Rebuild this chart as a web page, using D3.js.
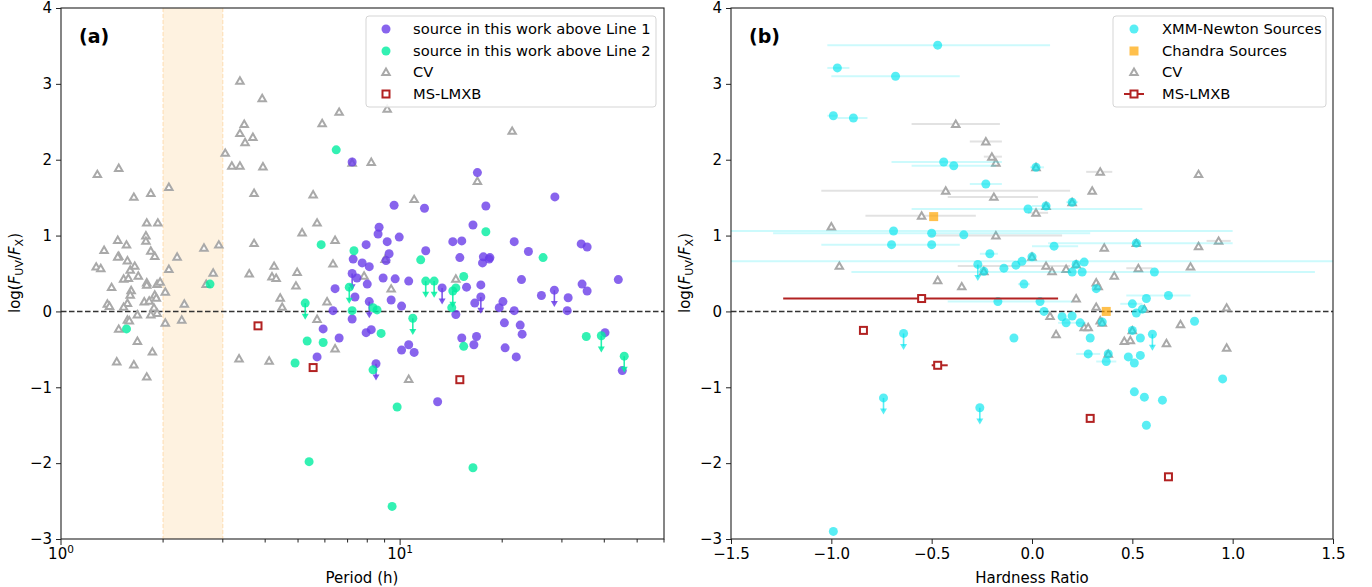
<!DOCTYPE html>
<meta charset="utf-8">
<script src="https://cdn.jsdelivr.net/npm/d3@7"></script>
<body style="margin:0;background:#fff">
<svg width="1372" height="587"></svg>
<script>
// ---- panel (a): [period (h), log(Fuv/Fx)] ----
var cvA = [[3.37,3.04],[3.92,2.81],[3.47,2.47],[3.37,2.35],[3.68,2.30],[3.49,2.23],[3.05,2.09],[3.19,1.92],[3.37,1.92],[3.94,1.91],
  [1.28,1.81],[1.48,1.89],[1.64,1.51],[1.84,1.56],[2.08,1.64],[3.71,1.56],[1.79,1.17],[1.93,1.17],[1.47,0.94],[1.56,0.88],
  [1.78,1.00],[1.78,0.93],[1.34,0.81],[1.48,0.73],[1.47,0.72],[1.57,0.67],[1.84,0.80],[1.89,0.73],[2.20,0.72],[2.64,0.84],
  [2.92,0.88],[3.71,0.90],[1.27,0.59],[1.31,0.57],[1.60,0.55],[1.65,0.60],[2.08,0.56],[2.81,0.51],[2.68,0.36],[3.59,0.50],
  [4.25,0.60],[4.19,0.46],[4.31,0.44],[4.97,0.52],[4.93,0.34],[1.53,0.43],[1.58,0.44],[1.69,0.47],[1.41,0.32],[1.61,0.28],
  [1.79,0.38],[1.79,0.35],[1.92,0.36],[1.96,0.39],[2.03,0.26],[1.60,0.22],[1.89,0.22],[1.91,0.18],[1.76,0.13],[1.82,0.14],
  [1.57,0.11],[1.53,0.06],[1.37,0.10],[1.39,0.07],[2.31,0.10],[1.88,0.05],[1.92,-0.02],[1.84,-0.04],[4.43,0.18],[4.49,0.06],
  [1.68,-0.04],[1.57,-0.11],[1.59,-0.12],[1.48,-0.23],[2.03,-0.15],[2.27,-0.11],[1.68,-0.39],[1.86,-0.53],[1.46,-0.66],[1.64,-0.70],
  [3.35,-0.62],[4.11,-0.65],[1.79,-0.86],[5.89,2.48],[6.61,2.63],[9.16,2.67],[8.22,1.97],[7.22,1.96],[5.54,1.54],[5.69,1.17],
  [5.14,1.04],[6.43,0.94],[11.0,1.48],[16.9,1.72],[21.4,2.38],[6.34,0.63],[6.09,0.13],[5.69,-0.10],[9.03,0.69],[7.83,0.47],
  [9.41,0.30],[6.43,-0.49],[10.6,-0.89],[14.6,0.43]];
var src1 = [[7.22,1.97],[16.9,1.83],[9.60,1.40],[11.8,1.36],[17.9,1.39],[8.67,1.11],[8.61,1.02],[9.16,0.92],[9.94,0.98],[7.94,0.88],
  [14.3,0.92],[15.2,0.93],[16.4,1.14],[28.6,1.51],[21.7,0.92],[34.2,0.89],[35.6,0.85],[7.27,0.69],[7.73,0.64],[8.11,0.59],
  [9.28,0.76],[9.09,0.67],[11.9,0.80],[15.0,0.71],[17.6,0.72],[17.5,0.64],[18.3,0.69],[7.46,0.44],[8.00,0.36],[8.91,0.44],
  [9.67,0.43],[10.6,0.40],[15.7,0.32],[17.3,0.35],[6.43,0.30],[7.36,0.19],[9.41,0.15],[10.1,0.07],[16.6,0.11],[14.6,-0.04],
  [7.22,-0.10],[6.34,0.01],[5.93,-0.23],[6.61,-0.35],[5.69,-0.60],[7.94,-0.28],[8.22,-0.24],[10.1,-0.51],[10.6,-0.44],[11.0,-0.54],
  [15.2,-0.35],[16.8,-0.33],[16.5,-0.44],[12.9,-1.19],[23.9,0.79],[18.4,0.71],[22.8,0.42],[34.4,0.36],[35.6,0.27],[44.0,0.42],
  [20.1,0.13],[19.6,0.05],[21.7,0.01],[26.1,0.21],[31.3,0.18],[31.1,0.01],[20.3,-0.15],[22.6,-0.18],[22.9,-0.30],[40.2,-0.28],
  [20.4,-0.48],[22.0,-0.60],[45.2,-0.78]];
var src1Ul = [[7.22,0.50],[8.11,0.13],[8.49,-0.69],[13.3,0.31],[17.3,0.19],[28.5,0.28]];
var src2 = [[2.75,0.36],[1.56,-0.23],[4.90,-0.68],[6.48,2.13],[5.85,0.88],[17.9,1.05],[7.31,0.80],[7.22,0.01],[8.32,0.05],[8.55,0.02],
  [11.5,0.68],[15.4,0.46],[14.6,0.31],[14.2,0.05],[5.32,-0.39],[5.93,-0.41],[8.79,-0.29],[8.32,-0.77],[9.80,-1.26],[5.39,-1.98],
  [16.4,-2.06],[9.47,-2.57],[15.4,-0.46],[26.4,0.71],[35.4,-0.33]];
var src2Ul = [[5.25,0.11],[7.08,0.32],[11.9,0.40],[12.6,0.40],[14.3,0.27],[10.9,-0.09],[39.2,-0.32],[45.8,-0.59]];
var lmxbA = [[3.81,-0.19],[5.54,-0.74],[15.0,-0.90]];

// ---- panel (b): [hardness ratio, log(Fuv/Fx), HR low, HR high] ----
var xmm = [[-0.47,3.51,-1.02,0.09],[-0.97,3.21,-1.02,-0.91],[-0.68,3.10,-1.00,-0.36],[-0.99,2.58,-1.02,-0.97],[-0.89,2.55,-0.97,-0.82],
  [-0.44,1.97,-0.70,-0.15],[-0.39,1.92,-0.60,-0.18],[0.02,1.90,-0.01,0.06],[-0.23,1.68,-0.31,-0.15],[-0.02,1.35,-0.60,0.55],
  [0.07,1.39,0.00,0.09],[0.20,1.44,0.17,0.23],[-0.69,1.06,-1.60,1.00],[-0.50,1.03,-1.29,0.29],[-0.70,0.88,-1.05,-0.36],
  [-0.50,0.88],[-0.34,1.01],[0.11,0.86,0.00,0.23],[0.52,0.90,0.08,1.00],[-0.21,0.76,-0.26,-0.17],[-0.14,0.57],[-0.08,0.61],
  [-0.05,0.66,-1.60,1.60],[0.00,0.72],[0.20,0.52],[0.22,0.62],[0.26,0.65],[0.25,0.52,-0.90,1.41],[0.61,0.52],[-0.24,0.53],
  [-0.04,0.36,-0.07,-0.01],[-0.17,0.13,-0.42,0.20],[0.04,0.13],[0.32,0.30],[0.50,0.10,0.44,0.55],[0.57,0.17],[0.68,0.21,0.47,0.79],
  [0.52,-0.02],[0.55,0.03],[0.06,0.00],[0.15,-0.07],[0.20,-0.06],[0.17,-0.15,0.13,0.27],[0.24,-0.15],[0.35,-0.14],[0.50,-0.25],
  [0.29,-0.35],[-0.09,-0.35],[0.54,-0.35],[0.28,-0.56,0.22,0.34],[0.37,-0.66,0.32,0.42],[0.38,-0.56],[0.48,-0.60],[0.54,-0.58],
  [0.51,-0.68],[0.51,-1.06],[0.56,-1.13],[0.65,-1.17],[0.57,-1.50],[0.81,-0.13],[0.95,-0.89],[-0.99,-2.90]];
var xmmUl = [[-0.27,0.62],[0.60,-0.30],[-0.26,-1.27],[-0.64,-0.29],[-0.74,-1.14]];
var chandra = [[-0.49,1.25],[0.37,0.00]];
var cvB = [[-0.55,1.26,-0.83,-0.28],[-1.00,1.12],[-0.96,0.60],[-0.47,0.41],[-0.38,2.47,-0.60,-0.16],[-0.23,2.24,-0.31,-0.15],
  [-0.20,2.04,-0.24,-0.15],[-0.18,1.96],[0.02,1.90],[0.34,1.84,0.27,0.40],[-0.43,1.59,-1.05,0.19],[-0.19,1.51,-0.42,0.03],
  [0.30,1.59],[0.07,1.39],[0.20,1.44],[0.02,1.30,-0.02,0.08],[-0.18,1.00,-0.51,0.15],[0.36,0.84],[0.52,0.90],[0.00,0.72],
  [0.22,0.62],[0.07,0.60,-0.37,0.19],[0.17,0.56],[0.10,0.53],[0.41,0.47],[0.53,0.57,0.47,0.60],[-0.24,0.53],[0.83,1.81],
  [0.83,0.86],[0.93,0.93,0.87,0.99],[0.79,0.59],[-0.35,0.33],[0.32,0.38],[0.33,0.33],[0.22,0.17],[0.32,0.06],[0.09,-0.06],
  [0.34,-0.12],[0.35,-0.15],[0.26,-0.21],[0.28,-0.21],[0.12,-0.30],[0.50,-0.25],[0.46,-0.39],[0.49,-0.38],[0.38,-0.56],
  [0.56,0.03],[0.67,-0.42],[0.97,0.05],[0.74,-0.17],[0.97,-0.48]];
var lmxbB = [[-0.55,0.17,-1.24,0.13],[-0.84,-0.25],[-0.47,-0.71,-0.50,-0.42],[0.29,-1.41],[0.68,-2.18]];

var yTicks = [-3, -2, -1, 0, 1, 2, 3, 4];
var hrTicks = [-1.5, -1.0, -0.5, 0.0, 0.5, 1.0, 1.5];
var periodMajor = [1, 10];
var periodMinor = [2, 3, 4, 5, 6, 7, 8, 9, 20, 30, 40, 50, 60];
var legendA = ['source in this work above Line 1', 'source in this work above Line 2', 'CV', 'MS-LMXB'];
var legendB = ['XMM-Newton Sources', 'Chandra Sources', 'CV', 'MS-LMXB'];

var svg = d3.select('svg');
var font = 'DejaVu Sans, sans-serif';
var colP = '#6a3de8', colG = '#00eea0', colC = '#00e5ee', colO = '#ffa500', colCV = '#a9a9a9', colR = '#b22222';
var ulLen = 0.22;

var y = d3.scaleLinear().domain([-3, 4]).range([539, 8]);
var xa = d3.scaleLog().domain([1, 60]).range([61, 664]);
var xb = d3.scaleLinear().domain([-1.5, 1.5]).range([731, 1333]);

var defs = svg.append('defs');
[['clipA', xa], ['clipB', xb]].forEach(function(c){
  defs.append('clipPath').attr('id', c[0]).append('rect')
    .attr('x', c[1].range()[0]).attr('y', 8)
    .attr('width', c[1].range()[1] - c[1].range()[0]).attr('height', 531);
});

function tri(g, cx, cy){
  g.append('path').attr('d', d3.symbol(d3.symbolTriangle).size(24)())
    .attr('transform', 'translate(' + cx + ',' + (cy + 0.8) + ')')
    .attr('fill', 'white').attr('stroke', colCV).attr('stroke-width', 2);
}
function sq(g, cx, cy){
  g.append('rect').attr('x', cx - 3.5).attr('y', cy - 3.5).attr('width', 7).attr('height', 7)
    .attr('fill', 'white').attr('stroke', colR).attr('stroke-width', 2);
}
function dot(g, cx, cy, col, op){
  g.append('circle').attr('cx', cx).attr('cy', cy).attr('r', 4.5)
    .attr('fill', col).attr('fill-opacity', op);
}
function arrow(g, cx, v, col, op){
  var y0 = y(v), y1 = y(v - ulLen);
  g.append('line').attr('x1', cx).attr('x2', cx).attr('y1', y0).attr('y2', y1 - 4)
    .attr('stroke', col).attr('stroke-width', 1.6).attr('stroke-opacity', op);
  g.append('path').attr('d', 'M' + (cx - 3.5) + ',' + (y1 - 6) + 'L' + (cx + 3.5) + ',' + (y1 - 6) + 'L' + cx + ',' + y1 + 'Z')
    .attr('fill', col).attr('fill-opacity', op);
}

// ================= panel (a) =================
var ga = svg.append('g').attr('clip-path', 'url(#clipA)');
ga.append('rect').attr('x', xa(2)).attr('y', 8).attr('width', xa(3) - xa(2)).attr('height', 531)
  .attr('fill', '#fef2e0');
[2, 3].forEach(function(p){
  ga.append('line').attr('x1', xa(p)).attr('x2', xa(p)).attr('y1', 8).attr('y2', 539)
    .attr('stroke', '#fddcb0').attr('stroke-width', 1).attr('stroke-dasharray', '4,2');
});
ga.append('line').attr('x1', 61).attr('x2', 664).attr('y1', y(0)).attr('y2', y(0))
  .attr('stroke', '#333').attr('stroke-width', 1.5).attr('stroke-dasharray', '5.5,2.5');
cvA.forEach(function(d){ tri(ga, xa(d[0]), y(d[1])); });
src1.forEach(function(d){ dot(ga, xa(d[0]), y(d[1]), colP, 0.8); });
src1Ul.forEach(function(d){ arrow(ga, xa(d[0]), d[1], colP, 0.85); dot(ga, xa(d[0]), y(d[1]), colP, 0.8); });
src2.forEach(function(d){ dot(ga, xa(d[0]), y(d[1]), colG, 0.8); });
src2Ul.forEach(function(d){ arrow(ga, xa(d[0]), d[1], colG, 0.85); dot(ga, xa(d[0]), y(d[1]), colG, 0.8); });
lmxbA.forEach(function(d){ sq(ga, xa(d[0]), y(d[1])); });

// ================= panel (b) =================
var gb = svg.append('g').attr('clip-path', 'url(#clipB)');
gb.append('line').attr('x1', 731).attr('x2', 1333).attr('y1', y(0)).attr('y2', y(0))
  .attr('stroke', '#333').attr('stroke-width', 1.5).attr('stroke-dasharray', '5.5,2.5');
function xbar(g, d, col, op){
  if (d.length < 4) return;
  g.append('line').attr('x1', xb(d[2])).attr('x2', xb(d[3])).attr('y1', y(d[1])).attr('y2', y(d[1]))
    .attr('stroke', col).attr('stroke-width', 2).attr('stroke-opacity', op);
}
cvB.forEach(function(d){ xbar(gb, d, '#cfcfcf', 0.6); });
cvB.forEach(function(d){ tri(gb, xb(d[0]), y(d[1])); });
xmm.forEach(function(d){ xbar(gb, d, colC, 0.2); });
xmm.forEach(function(d){ dot(gb, xb(d[0]), y(d[1]), colC, 0.65); });
xmmUl.forEach(function(d){ arrow(gb, xb(d[0]), d[1], colC, 0.65); dot(gb, xb(d[0]), y(d[1]), colC, 0.65); });
chandra.forEach(function(d){
  gb.append('rect').attr('x', xb(d[0]) - 4.5).attr('y', y(d[1]) - 4.5).attr('width', 9).attr('height', 9)
    .attr('fill', colO).attr('fill-opacity', 0.7);
});
lmxbB.forEach(function(d){ xbar(gb, d, colR, 1); });
lmxbB.forEach(function(d){ sq(gb, xb(d[0]), y(d[1])); });

// ================= axes =================
function frame(x0, x1){
  svg.append('rect').attr('x', x0).attr('y', 8).attr('width', x1 - x0).attr('height', 531)
    .attr('fill', 'none').attr('stroke', '#222').attr('stroke-width', 1.1);
}
frame(61, 664); frame(731, 1333);

function yAxis(x0, lx){
  var ax = svg.append('g').attr('transform', 'translate(' + x0 + ',0)')
    .call(d3.axisLeft(y).tickValues(yTicks).tickSize(5).tickPadding(4).tickFormat(d3.format('d')));
  ax.select('.domain').remove();
  ax.selectAll('text').attr('font-size', 15).attr('font-family', font).attr('fill', '#000');
  ax.selectAll('line').attr('stroke', '#222');
  var t = svg.append('text').attr('transform', 'translate(' + lx + ',273) rotate(-90)')
    .attr('text-anchor', 'middle').attr('font-size', 15).attr('font-family', font);
  t.append('tspan').text('log(');
  t.append('tspan').attr('font-style', 'italic').text('F');
  t.append('tspan').attr('font-size', 11).attr('dy', 3).text('UV');
  t.append('tspan').attr('dy', -3).text('/');
  t.append('tspan').attr('font-style', 'italic').text('F');
  t.append('tspan').attr('font-size', 11).attr('dy', 3).text('X');
  t.append('tspan').attr('dy', -3).text(')');
}
yAxis(61, 20); yAxis(731, 690);

// log x axis (a)
var axA = svg.append('g');
periodMinor.filter(function(p){ return p <= 60; }).forEach(function(p){
  axA.append('line').attr('x1', xa(p)).attr('x2', xa(p)).attr('y1', 539).attr('y2', 542.5).attr('stroke', '#222');
});
periodMajor.forEach(function(p){
  axA.append('line').attr('x1', xa(p)).attr('x2', xa(p)).attr('y1', 539).attr('y2', 545).attr('stroke', '#222');
  var t = axA.append('text').attr('x', xa(p)).attr('y', 559).attr('text-anchor', 'middle')
    .attr('font-size', 15).attr('font-family', font);
  t.append('tspan').text('10');
  t.append('tspan').attr('font-size', 10.5).attr('dy', -6).text(String(Math.round(Math.log10(p))));
});
svg.append('text').attr('x', 362).attr('y', 583).attr('text-anchor', 'middle')
  .attr('font-size', 15).attr('font-family', font).text('Period (h)');

// linear x axis (b)
var axB = svg.append('g').attr('transform', 'translate(0,539)')
  .call(d3.axisBottom(xb).tickValues(hrTicks).tickSize(5).tickPadding(4).tickFormat(d3.format('.1f')));
axB.select('.domain').remove();
axB.selectAll('text').attr('font-size', 15).attr('font-family', font).attr('fill', '#000');
axB.selectAll('line').attr('stroke', '#222');
svg.append('text').attr('x', 1032).attr('y', 583).attr('text-anchor', 'middle')
  .attr('font-size', 15).attr('font-family', font).text('Hardness Ratio');

// panel labels
svg.append('text').attr('x', 79).attr('y', 43).attr('font-size', 19).attr('font-weight', 'bold')
  .attr('font-family', font).text('(a)');
svg.append('text').attr('x', 749).attr('y', 43).attr('font-size', 19).attr('font-weight', 'bold')
  .attr('font-family', font).text('(b)');

// ================= legends =================
function legendBox(x0, w){
  svg.append('rect').attr('x', x0).attr('y', 16).attr('width', w).attr('height', 91).attr('rx', 3)
    .attr('fill', 'white').attr('fill-opacity', 0.85).attr('stroke', '#d5d5d5');
}
var rowY = [29, 51, 72, 94];
legendBox(366, 290);
var lgA = svg.append('g');
dot(lgA, 386, rowY[0], colP, 0.8);
dot(lgA, 386, rowY[1], colG, 0.8);
tri(lgA, 386, rowY[2]);
sq(lgA, 386, rowY[3]);
legendA.forEach(function(s, i){
  lgA.append('text').attr('x', 413).attr('y', rowY[i] + 5).attr('font-size', 14.7).attr('font-family', font).text(s);
});
legendBox(1113, 213);
var lgB = svg.append('g');
dot(lgB, 1134, rowY[0], colC, 0.65);
lgB.append('rect').attr('x', 1129.5).attr('y', rowY[1] - 4.5).attr('width', 9).attr('height', 9)
  .attr('fill', colO).attr('fill-opacity', 0.7);
tri(lgB, 1134, rowY[2]);
lgB.append('line').attr('x1', 1124).attr('x2', 1144).attr('y1', rowY[3]).attr('y2', rowY[3])
  .attr('stroke', colR).attr('stroke-width', 2);
sq(lgB, 1134, rowY[3]);
legendB.forEach(function(s, i){
  lgB.append('text').attr('x', 1162).attr('y', rowY[i] + 5).attr('font-size', 14.7).attr('font-family', font).text(s);
});
</script>
</body>
